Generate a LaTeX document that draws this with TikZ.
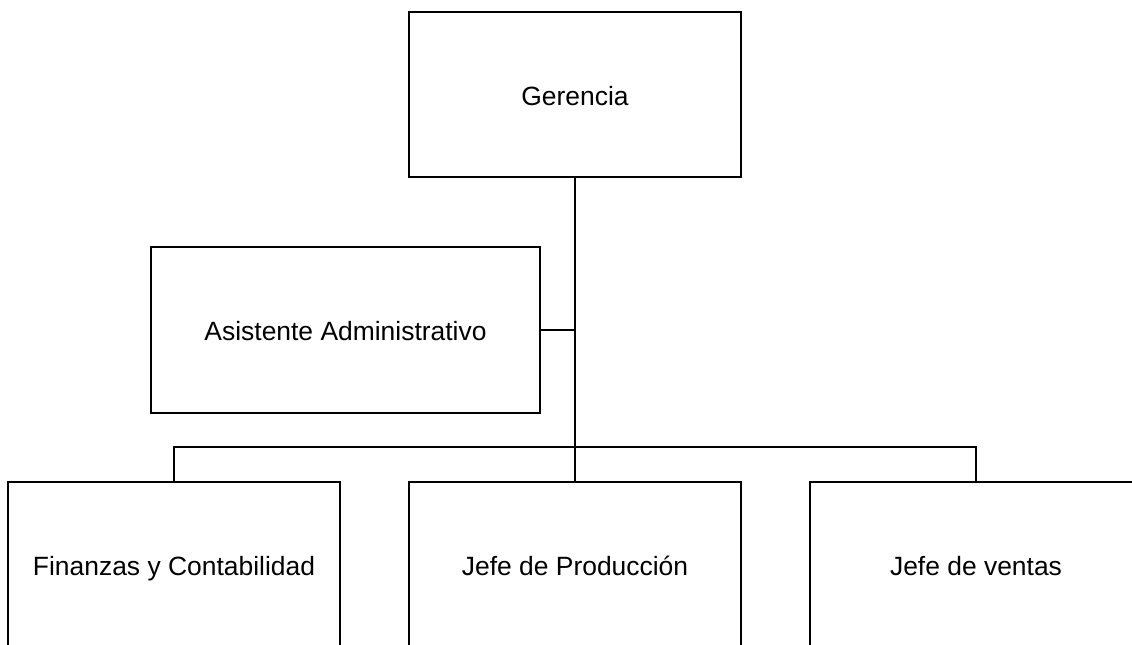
\documentclass[tikz,border=0pt]{standalone}
\usepackage{fontspec}
\setmainfont{Liberation Sans}
\usepackage{tikz}

\begin{document}
\begin{tikzpicture}[caja/.style={draw,line width=2pt,minimum width=8.3cm,minimum height=4.125cm,text height=16pt,text depth=1pt,font=\fontsize{18.8}{22}\selectfont},
	linea/.style={line width=2pt}]
	\useasboundingbox (0,0) rectangle (28.3,-16.1);
	%cajas
	\node (ger) at (14.375,-2.3625)[caja]{Gerencia};
	\node (asis) at (8.6375,-8.25)[caja,minimum width=9.725cm,minimum height=4.15cm]{Asistente Administrativo};
	\node (fin) at (4.35,-14.1125)[caja]{Finanzas y Contabilidad};
	\node (prod) at (14.375,-14.1125)[caja]{Jefe de Producción};
	\node (ven) at (24.4,-14.1125)[caja]{Jefe de ventas};
	%lineas
	\coordinate (bus) at (14.375,-11.175);
	\draw[linea](ger.south)--(prod.north);
	\draw[linea](asis.east)--(asis.east -| ger.south);
	\draw[linea](fin.north)--(fin.north |- bus)-|(ven.north);
\end{tikzpicture}
\end{document}
